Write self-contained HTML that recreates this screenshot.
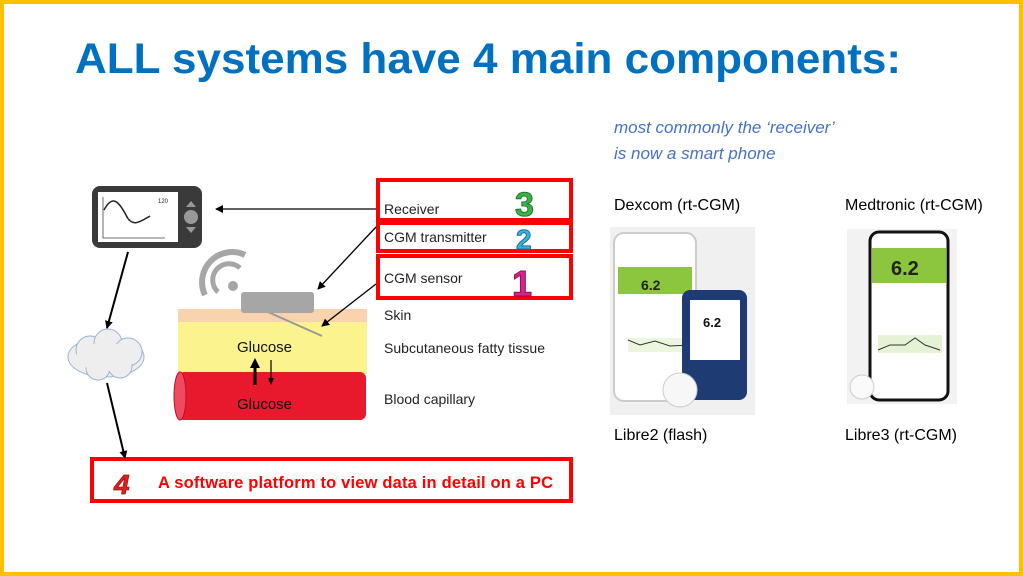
<!DOCTYPE html>
<html><head><meta charset="utf-8"><style>
html,body{margin:0;padding:0;background:#fff;}
svg{display:block;}
</style></head><body>
<svg width="1023" height="576" viewBox="0 0 1023 576" xmlns="http://www.w3.org/2000/svg" font-family="Liberation Sans, sans-serif">
<defs>
<marker id="ah" markerWidth="8" markerHeight="8" refX="7" refY="4" orient="auto" markerUnits="userSpaceOnUse"><path d="M0,0 L8,4 L0,8 z" fill="#000"/></marker>
</defs>
<rect x="2" y="2" width="1019" height="572" fill="#fff" stroke="#FFC000" stroke-width="4"/>
<text x="75" y="73" font-size="43" font-weight="bold" fill="#0070C0" textLength="826" lengthAdjust="spacingAndGlyphs">ALL systems have 4 main components:</text>
<text x="614" y="133" font-size="17" font-style="italic" fill="#4472C4">most commonly the ‘receiver’</text>
<text x="614" y="159" font-size="17" font-style="italic" fill="#4472C4">is now a smart phone</text>
<text x="614" y="210" font-size="16" fill="#000">Dexcom (rt-CGM)</text>
<text x="845" y="210" font-size="16" fill="#000">Medtronic (rt-CGM)</text>
<text x="614" y="440" font-size="16" fill="#000">Libre2 (flash)</text>
<text x="845" y="440" font-size="16" fill="#000">Libre3 (rt-CGM)</text>

<!-- image1 -->
<rect x="610" y="227" width="145" height="188" fill="#f0f0f0"/>
<rect x="614" y="233" width="82" height="168" rx="10" fill="#fff" stroke="#ccc" stroke-width="2"/>
<rect x="618" y="267" width="74" height="27" fill="#8cc63f"/>
<text x="641" y="290" font-size="14" font-weight="bold" fill="#222">6.2</text>
<rect x="628" y="338" width="62" height="14" fill="#dff0c8" opacity="0.6"/>
<polyline points="628,340 640,345 655,341 670,346 690,345" fill="none" stroke="#333"/>
<rect x="682" y="290" width="65" height="110" rx="8" fill="#1f3b73"/>
<rect x="690" y="300" width="50" height="60" fill="#fff"/>
<text x="703" y="327" font-size="13" font-weight="bold" fill="#111">6.2</text>
<circle cx="680" cy="390" r="17" fill="#f7f7f7" stroke="#ccc"/>
<!-- image2 -->
<rect x="847" y="229" width="110" height="175" fill="#f2f2f2"/>
<rect x="870" y="232" width="78" height="168" rx="9" fill="#fff" stroke="#111" stroke-width="3"/>
<rect x="872" y="248" width="74" height="35" fill="#8cc63f"/>
<text x="891" y="275" font-size="20" font-weight="bold" fill="#222">6.2</text>
<rect x="878" y="335" width="64" height="18" fill="#e5f2d5"/>
<polyline points="878,350 890,345 905,345 915,338 925,345 940,350" fill="none" stroke="#333"/>
<circle cx="862" cy="387" r="12" fill="#fafafa" stroke="#ccc"/>

<!-- device -->
<rect x="92" y="186" width="110" height="62" rx="8" fill="#3a3a3a"/>
<rect x="98" y="192" width="80" height="50" fill="#fff"/>
<path d="M104,210 C112,195 118,200 126,215 C132,228 140,222 150,216" fill="none" stroke="#222" stroke-width="1.5"/>
<polyline points="103,197 103,238 165,238" fill="none" stroke="#444" stroke-width="0.8"/>
<circle cx="191" cy="217" r="7" fill="#999"/>
<path d="M186,207 L191,201 L196,207 z M186,227 L191,233 L196,227z" fill="#999"/>
<text x="158" y="203" font-size="6" fill="#222">120</text>

<!-- cloud -->
<g fill="#eee" stroke="#9ab4d8" stroke-width="1">
<ellipse cx="106" cy="357" rx="38" ry="20"/>
<circle cx="90" cy="350" r="14"/><circle cx="108" cy="343" r="14"/><circle cx="128" cy="352" r="14"/><circle cx="98" cy="368" r="12"/><circle cx="120" cy="366" r="12"/>
</g>
<ellipse cx="106" cy="357" rx="30" ry="14" fill="#eee"/>

<!-- tissue -->
<rect x="178" y="309" width="189" height="14" fill="#f9d3ad"/>
<rect x="178" y="322" width="189" height="52" fill="#fbf38e"/>
<rect x="178" y="372" width="188" height="48" rx="6" fill="#e8192c"/>
<ellipse cx="180" cy="396" rx="6" ry="24" fill="#ef4a60" stroke="#c01020"/>
<text x="237" y="352" font-size="15" fill="#111">Glucose</text>
<text x="237" y="409" font-size="15" fill="#111">Glucose</text>
<line x1="255" y1="385" x2="255" y2="366" stroke="#000" stroke-width="3"/>
<path d="M250,368 L255,358 L260,368z" fill="#000"/>
<line x1="271" y1="360" x2="271" y2="380" stroke="#000" stroke-width="1.2"/>
<path d="M268,378 L271,385 L274,378z" fill="#000"/>
<line x1="268" y1="312" x2="322" y2="336" stroke="#999" stroke-width="2"/>
<rect x="241" y="292" width="73" height="21" rx="3" fill="#a6a6a6"/>
<!-- wifi -->
<circle cx="233" cy="286" r="5" fill="#a6a6a6"/>
<path d="M218,292 A16,16 0 0 1 240,268" fill="none" stroke="#a6a6a6" stroke-width="5"/>
<path d="M205,295 A30,30 0 0 1 245,255" fill="none" stroke="#a6a6a6" stroke-width="6"/>

<text x="384" y="320" font-size="14" fill="#222">Skin</text>
<text x="384" y="353" font-size="14" fill="#222" textLength="161">Subcutaneous fatty tissue</text>
<text x="384" y="404" font-size="14" fill="#222">Blood capillary</text>

<!-- red boxes -->
<g fill="#fff" stroke="#f00" stroke-width="4">
<rect x="378" y="180" width="193" height="40"/>
<rect x="378" y="223" width="193" height="28"/>
<rect x="378" y="256" width="193" height="42"/>
<rect x="92" y="459" width="479" height="42"/>
</g>
<text x="384" y="214" font-size="14" fill="#222">Receiver</text>
<text x="384" y="242" font-size="14" fill="#222">CGM transmitter</text>
<text x="384" y="283" font-size="14" fill="#222">CGM sensor</text>
<text x="515" y="216" font-size="34" font-weight="bold" fill="#3db04a" stroke="#1d7a2a" stroke-width="1">3</text>
<text x="516" y="249" font-size="28" font-weight="bold" fill="#35b4e0" stroke="#1a6f9a" stroke-width="1">2</text>
<text x="512" y="296" font-size="36" font-weight="bold" fill="#d8248a" stroke="#8a1155" stroke-width="1">1</text>
<text x="114" y="494" font-size="28" font-weight="bold" font-style="italic" fill="#d22" stroke="#911" stroke-width="0.8">4</text>
<text x="158" y="488" font-size="16.5" font-weight="bold" fill="#f00" textLength="395">A software platform to view data in detail on a PC</text>

<!-- arrows -->
<g stroke="#000" stroke-width="1.3" fill="none" marker-end="url(#ah)">
<line x1="376" y1="209" x2="216" y2="209"/>
<line x1="376" y1="227" x2="318" y2="289"/>
<line x1="376" y1="284" x2="322" y2="326"/>
<line x1="128" y1="252" x2="107" y2="328" stroke-width="2"/>
<line x1="107" y1="383" x2="125" y2="458" stroke-width="2"/>
</g>
</svg>
</body></html>
